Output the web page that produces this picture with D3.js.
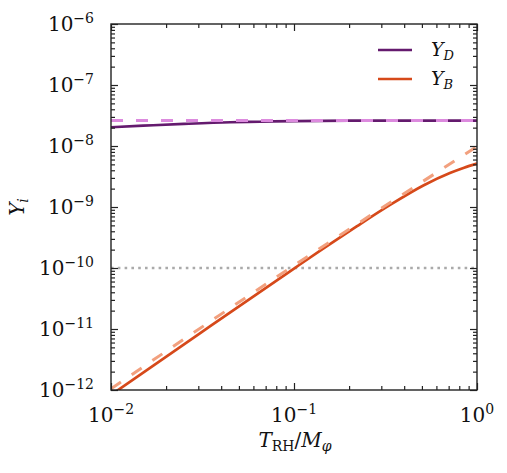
<!DOCTYPE html>
<html><head><meta charset="utf-8">
<script src="https://cdn.jsdelivr.net/npm/d3@7"></script>
<style>body{margin:0;background:#fff}</style>
</head><body>
<svg id="c" width="507" height="473"></svg>
<script>
// ---- data ----
const xDomain = [1e-2, 1];
const yDomain = [1e-12, 1e-6];
const xMajor = [1e-2, 1e-1, 1];
const xMajorExp = ["\u22122", "\u22121", "0"];
const yMajor = [1e-12, 1e-11, 1e-10, 1e-9, 1e-8, 1e-7, 1e-6];
const yMajorExp = ["\u221212", "\u221211", "\u221210", "\u22129", "\u22128", "\u22127", "\u22126"];

// Y_D solid
const xD = [0.01, 0.015, 0.025, 0.045, 0.065, 0.1, 0.2, 0.5, 1.0];
const yD = [2.03e-8, 2.15e-8, 2.3e-8, 2.45e-8, 2.5e-8, 2.56e-8, 2.6e-8, 2.6e-8, 2.6e-8];
// Y_D dashed (approximation)
const xDd = [0.01, 1.0];
const yDd = [2.62e-8, 2.62e-8];
// Y_B solid
const xB = [0.01, 0.0306, 0.1, 0.145, 0.22, 0.335, 0.509, 0.711, 0.85, 1.0];
const yB = [8.3e-13, 8.5e-12, 9.8e-11, 2.09e-10, 4.8e-10, 1.08e-9, 2.25e-9, 3.6e-9, 4.4e-9, 5.15e-9];
// Y_B dashed (approximation)
const xBd = [0.01, 0.1, 1.0];
const yBd = [1.05e-12, 1.1e-10, 9.8e-9];
// observed reference level (dotted)
const yObs = 1e-10;

const legendLabels = [["Y", "D"], ["Y", "B"]];
const colors = {D: "#641a6e", Dd: "#dc8ade", B: "#d6491a", Bd: "#f2a07e", obs: "#aaaaaa"};

// ---- drawing ----
const svg = d3.select("#c");
svg.append("rect").attr("width", 507).attr("height", 473).attr("fill", "#fff");
const L = 111, R = 477, T = 24, B = 390;
const x = d3.scaleLog().domain(xDomain).range([L, R]);
const y = d3.scaleLog().domain(yDomain).range([B, T]);

svg.append("clipPath").attr("id", "clip").append("rect")
  .attr("x", L).attr("y", T).attr("width", R - L).attr("height", B - T);

const g = svg.append("g").attr("clip-path", "url(#clip)");
const line = d3.line().x(d => x(d[0])).y(d => y(d[1])).curve(d3.curveMonotoneX);
const zip = (a, b) => a.map((v, i) => [v, b[i]]);

// dotted reference line
g.append("path").attr("d", line([[xDomain[0], yObs], [xDomain[1], yObs]]))
  .attr("fill", "none").attr("stroke", colors.obs).attr("stroke-width", 2.6)
  .attr("stroke-dasharray", "2.6,4.2");

g.append("path").attr("d", line(zip(xD, yD))).attr("fill", "none")
  .attr("stroke", colors.D).attr("stroke-width", 2.7);
g.append("path").attr("d", line(zip(xDd, yDd))).attr("fill", "none")
  .attr("stroke", colors.Dd).attr("stroke-width", 3).attr("stroke-dasharray", "12,13");
g.append("path").attr("d", line(zip(xB, yB))).attr("fill", "none")
  .attr("stroke", colors.B).attr("stroke-width", 2.7);
g.append("path").attr("d", line(zip(xBd, yBd))).attr("fill", "none")
  .attr("stroke", colors.Bd).attr("stroke-width", 3).attr("stroke-dasharray", "12,13");

// axes with inward ticks on all four sides
const xMinor = [];
for (let e = -2; e < 0; e++) for (let k = 2; k <= 9; k++) xMinor.push(k * Math.pow(10, e));
const yMinor = [];
for (let e = -12; e < -6; e++) for (let k = 2; k <= 9; k++) yMinor.push(k * Math.pow(10, e));

function styleAxis(sel) {
  sel.select(".domain").remove();
  sel.selectAll("line").attr("stroke", "#222").attr("stroke-width", 1.2);
  sel.selectAll("text").remove();
}
const maj = 7, mnr = 4;
svg.append("g").attr("transform", `translate(0,${B})`)
  .call(d3.axisBottom(x).tickValues(xMajor).tickSize(-maj)).call(styleAxis);
svg.append("g").attr("transform", `translate(0,${B})`)
  .call(d3.axisBottom(x).tickValues(xMinor).tickSize(-mnr)).call(styleAxis);
svg.append("g").attr("transform", `translate(0,${T})`)
  .call(d3.axisTop(x).tickValues(xMajor).tickSize(-maj)).call(styleAxis);
svg.append("g").attr("transform", `translate(0,${T})`)
  .call(d3.axisTop(x).tickValues(xMinor).tickSize(-mnr)).call(styleAxis);
svg.append("g").attr("transform", `translate(${L},0)`)
  .call(d3.axisLeft(y).tickValues(yMajor).tickSize(-maj)).call(styleAxis);
svg.append("g").attr("transform", `translate(${L},0)`)
  .call(d3.axisLeft(y).tickValues(yMinor).tickSize(-mnr)).call(styleAxis);
svg.append("g").attr("transform", `translate(${R},0)`)
  .call(d3.axisRight(y).tickValues(yMajor).tickSize(-maj)).call(styleAxis);
svg.append("g").attr("transform", `translate(${R},0)`)
  .call(d3.axisRight(y).tickValues(yMinor).tickSize(-mnr)).call(styleAxis);

svg.append("rect").attr("x", L).attr("y", T).attr("width", R - L).attr("height", B - T)
  .attr("fill", "none").attr("stroke", "#222").attr("stroke-width", 1.4);

const font = "'DejaVu Serif', serif";
// tick labels
xMajor.forEach((v, i) => {
  const t = svg.append("text").attr("x", x(v)).attr("y", 421.5)
    .attr("text-anchor", "middle").attr("font-family", font).attr("font-size", 20).attr("fill", "#111");
  t.append("tspan").text("10");
  t.append("tspan").attr("dy", -7.5).attr("font-size", 14).text(xMajorExp[i]);
});
yMajor.forEach((v, i) => {
  const t = svg.append("text").attr("x", 94).attr("y", y(v) + 6.5)
    .attr("text-anchor", "end").attr("font-family", font).attr("font-size", 20).attr("fill", "#111");
  t.append("tspan").text("10");
  t.append("tspan").attr("dy", -7.5).attr("font-size", 14).text(yMajorExp[i]);
});

// axis titles
const xl = svg.append("text").attr("x", 295).attr("y", 447).attr("text-anchor", "middle")
  .attr("font-family", font).attr("font-size", 20).attr("fill", "#111");
xl.append("tspan").attr("font-style", "italic").text("T");
xl.append("tspan").attr("dy", 4).attr("font-size", 14).text("RH");
xl.append("tspan").attr("dy", -4).text("/");
xl.append("tspan").attr("font-style", "italic").text("M");
xl.append("tspan").attr("dy", 4).attr("font-size", 14).attr("font-style", "italic").text("\u03c6");

const yl = svg.append("text").attr("transform", "translate(24,207) rotate(-90)")
  .attr("text-anchor", "middle").attr("font-family", font).attr("font-size", 20).attr("fill", "#111");
yl.append("tspan").attr("font-style", "italic").text("Y");
yl.append("tspan").attr("dy", 4).attr("font-size", 14).attr("font-style", "italic").text("i");

// legend
const legColors = [colors.D, colors.B];
legendLabels.forEach((lab, i) => {
  const yy = 50 + i * 29;
  svg.append("line").attr("x1", 378).attr("x2", 412).attr("y1", yy).attr("y2", yy)
    .attr("stroke", legColors[i]).attr("stroke-width", 2.7);
  const t = svg.append("text").attr("x", 431).attr("y", yy + 5.5)
    .attr("font-family", font).attr("font-size", 19).attr("fill", "#111").attr("font-style", "italic");
  t.append("tspan").text(lab[0]);
  t.append("tspan").attr("dy", 4).attr("font-size", 13).text(lab[1]);
});
</script>
</body></html>
